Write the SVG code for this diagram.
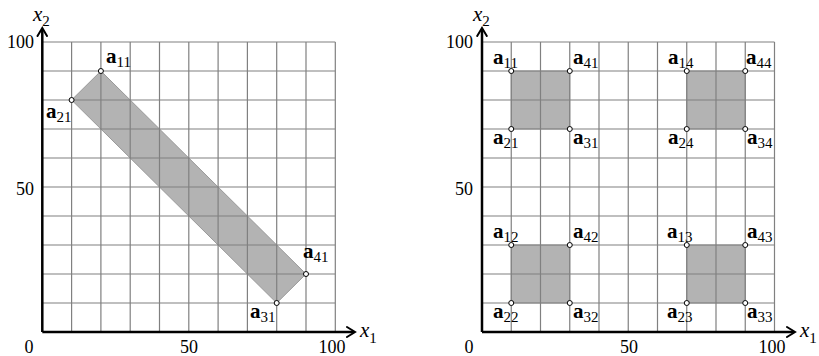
<svg xmlns="http://www.w3.org/2000/svg" width="819" height="356" viewBox="0 0 819 356" font-family="'Liberation Serif', 'Times New Roman', serif">
<style>
text,tspan{font-family:'Liberation Serif','Times New Roman',serif;fill:#000}
.num{font-size:18px}
.ax{font-size:21px;font-style:italic}
.axs{font-size:15px;font-style:normal}
.lb{font-size:21px;font-weight:bold}
.sub{font-size:15px;font-weight:normal}
.grid{stroke:#808080;stroke-width:1.2;fill:none}
.axis{stroke:#000;stroke-width:2.5;fill:none}
.arr{stroke:#000;stroke-width:2;fill:none;stroke-linecap:round;stroke-linejoin:miter}
.reg{fill:#b3b3b3;stroke:#999;stroke-width:1}
.pt{fill:#fff;stroke:#000;stroke-width:1}
</style>
<rect width="819" height="356" fill="#fff"/>

<g id="left-plot">
  <polygon id="left-region" class="reg" points="71.6,100 100.9,71 306,274 276.7,303"/>
  <path class="grid" d="M71.6,332V42M100.9,332V42M130.2,332V42M159.5,332V42M188.8,332V42M218.1,332V42M247.4,332V42M276.7,332V42M306,332V42M335.3,332V42M42.3,303H335.3M42.3,274H335.3M42.3,245H335.3M42.3,216H335.3M42.3,187H335.3M42.3,158H335.3M42.3,129H335.3M42.3,100H335.3M42.3,71H335.3M42.3,42H335.3"/>
  <g id="left-axes">
    <path class="axis" d="M42.3,332H354M42.3,332V29"/>
    <path class="arr" d="M347,327L355,332L347,337M37.5,36L42.3,28L47,36"/>
  </g>
  <g id="left-ticks">
    <text class="num" x="34" y="48" text-anchor="end">100</text>
    <text class="num" x="34" y="195" text-anchor="end">50</text>
    <text class="num" x="29" y="353" text-anchor="middle">0</text>
    <text class="num" x="189" y="353" text-anchor="middle">50</text>
    <text class="num" x="332" y="353" text-anchor="middle">100</text>
    <text class="ax" x="360" y="337">x<tspan class="axs" dy="6">1</tspan></text>
    <text class="ax" x="33" y="21">x<tspan class="axs" dy="5">2</tspan></text>
  </g>
  <g id="left-a11"><circle class="pt" cx="100.9" cy="71" r="2.5"/><text class="lb" x="106" y="63">a<tspan class="sub" dy="4">11</tspan></text></g>
  <g id="left-a21"><circle class="pt" cx="71.6" cy="100" r="2.5"/><text class="lb" x="46" y="118">a<tspan class="sub" dy="4">21</tspan></text></g>
  <g id="left-a41"><circle class="pt" cx="306" cy="274" r="2.5"/><text class="lb" x="303" y="258">a<tspan class="sub" dy="4">41</tspan></text></g>
  <g id="left-a31"><circle class="pt" cx="276.7" cy="303" r="2.5"/><text class="lb" x="250" y="318">a<tspan class="sub" dy="4">31</tspan></text></g>
</g>

<g id="right-plot">
  <rect id="right-region1" class="reg" x="511.25" y="71" width="58.5" height="58"/>
  <rect id="right-region4" class="reg" x="686.75" y="71" width="58.5" height="58"/>
  <rect id="right-region2" class="reg" x="511.25" y="245" width="58.5" height="58"/>
  <rect id="right-region3" class="reg" x="686.75" y="245" width="58.5" height="58"/>
  <path class="grid" d="M511.25,332V42M540.5,332V42M569.75,332V42M599,332V42M628.25,332V42M657.5,332V42M686.75,332V42M716,332V42M745.25,332V42M774.5,332V42M482,303H774.5M482,274H774.5M482,245H774.5M482,216H774.5M482,187H774.5M482,158H774.5M482,129H774.5M482,100H774.5M482,71H774.5M482,42H774.5"/>
  <g id="right-axes">
    <path class="axis" d="M482,332H794M482,332V29"/>
    <path class="arr" d="M787,327L795,332L787,337M477.2,36L482,28L486.8,36"/>
  </g>
  <g id="right-ticks">
    <text class="num" x="473" y="48" text-anchor="end">100</text>
    <text class="num" x="473" y="195" text-anchor="end">50</text>
    <text class="num" x="469" y="353" text-anchor="middle">0</text>
    <text class="num" x="629" y="353" text-anchor="middle">50</text>
    <text class="num" x="772" y="353" text-anchor="middle">100</text>
    <text class="ax" x="800" y="337">x<tspan class="axs" dy="6">1</tspan></text>
    <text class="ax" x="473" y="21">x<tspan class="axs" dy="5">2</tspan></text>
  </g>
  <g id="right-a11"><circle class="pt" cx="511.25" cy="71" r="2.5"/><text class="lb" x="493" y="64">a<tspan class="sub" dy="4">11</tspan></text></g>
  <g id="right-a41"><circle class="pt" cx="569.75" cy="71" r="2.5"/><text class="lb" x="573" y="64">a<tspan class="sub" dy="4">41</tspan></text></g>
  <g id="right-a21"><circle class="pt" cx="511.25" cy="129" r="2.5"/><text class="lb" x="493" y="144">a<tspan class="sub" dy="4">21</tspan></text></g>
  <g id="right-a31"><circle class="pt" cx="569.75" cy="129" r="2.5"/><text class="lb" x="573" y="144">a<tspan class="sub" dy="4">31</tspan></text></g>
  <g id="right-a14"><circle class="pt" cx="686.75" cy="71" r="2.5"/><text class="lb" x="668" y="64">a<tspan class="sub" dy="4">14</tspan></text></g>
  <g id="right-a44"><circle class="pt" cx="745.25" cy="71" r="2.5"/><text class="lb" x="746" y="64">a<tspan class="sub" dy="4">44</tspan></text></g>
  <g id="right-a24"><circle class="pt" cx="686.75" cy="129" r="2.5"/><text class="lb" x="668" y="144">a<tspan class="sub" dy="4">24</tspan></text></g>
  <g id="right-a34"><circle class="pt" cx="745.25" cy="129" r="2.5"/><text class="lb" x="747" y="144">a<tspan class="sub" dy="4">34</tspan></text></g>
  <g id="right-a12"><circle class="pt" cx="511.25" cy="245" r="2.5"/><text class="lb" x="493" y="238">a<tspan class="sub" dy="4">12</tspan></text></g>
  <g id="right-a42"><circle class="pt" cx="569.75" cy="245" r="2.5"/><text class="lb" x="573" y="238">a<tspan class="sub" dy="4">42</tspan></text></g>
  <g id="right-a22"><circle class="pt" cx="511.25" cy="303" r="2.5"/><text class="lb" x="493" y="318">a<tspan class="sub" dy="4">22</tspan></text></g>
  <g id="right-a32"><circle class="pt" cx="569.75" cy="303" r="2.5"/><text class="lb" x="573" y="318">a<tspan class="sub" dy="4">32</tspan></text></g>
  <g id="right-a13"><circle class="pt" cx="686.75" cy="245" r="2.5"/><text class="lb" x="667" y="238">a<tspan class="sub" dy="4">13</tspan></text></g>
  <g id="right-a43"><circle class="pt" cx="745.25" cy="245" r="2.5"/><text class="lb" x="747" y="238">a<tspan class="sub" dy="4">43</tspan></text></g>
  <g id="right-a23"><circle class="pt" cx="686.75" cy="303" r="2.5"/><text class="lb" x="667" y="318">a<tspan class="sub" dy="4">23</tspan></text></g>
  <g id="right-a33"><circle class="pt" cx="745.25" cy="303" r="2.5"/><text class="lb" x="747" y="318">a<tspan class="sub" dy="4">33</tspan></text></g>
</g>
</svg>
